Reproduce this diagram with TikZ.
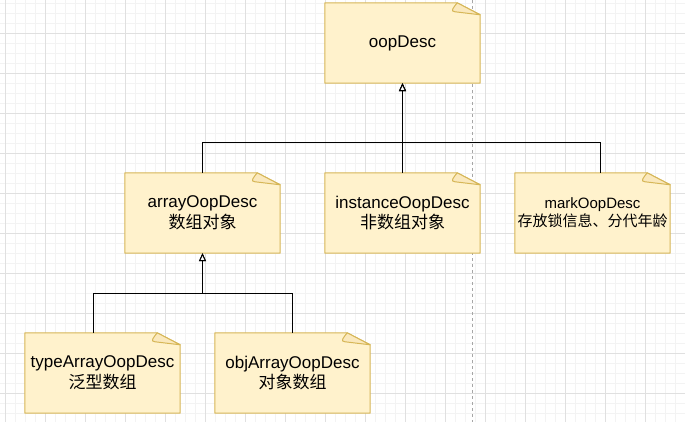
\documentclass[tikz,border=0pt]{standalone}
\usepackage{fontspec}
\setmainfont{Liberation Sans}
\newfontfamily\cjk{Noto Sans CJK SC}
\usetikzlibrary{arrows.meta}
\definecolor{notefill}{HTML}{FFF2CC}
\definecolor{noteline}{HTML}{D6B656}
\definecolor{flapfill}{HTML}{FAE8BC}
\definecolor{gridminor}{HTML}{F3F3F3}
\definecolor{gridmajor}{HTML}{E0E0E0}
\definecolor{dashcol}{HTML}{A6A6A6}
\pgfdeclarelayer{bg}
\pgfsetlayers{bg,main}
\newcommand\notebox[1]{%
  \begin{pgfonlayer}{bg}
  \filldraw[fill=notefill,draw=noteline,line width=1pt,line join=round]
    (#1.north west) -- ([xshift=-23pt]#1.north east) -- ([yshift=-12pt]#1.north east)
    -- (#1.south east) -- (#1.south west) -- cycle;
  \filldraw[fill=flapfill,draw=noteline,line width=1pt,line join=round]
    ([xshift=-23pt]#1.north east) .. controls ([xshift=-26pt,yshift=-4pt]#1.north east) and ([xshift=-31pt,yshift=-9pt]#1.north east) .. ([xshift=-25pt,yshift=-9pt]#1.north east)
    -- ([yshift=-12pt]#1.north east) -- cycle;
  \end{pgfonlayer}}
\tikzset{
  notenode/.style={minimum width=155pt,minimum height=80pt,inner sep=0pt,align=center,
    font=\fontsize{17}{20.5}\selectfont},
  smalltext/.style={font=\fontsize{15}{18}\selectfont},
  edge/.style={draw=black,line width=1pt},
  inh/.style={edge,-{Triangle[fill=white,length=8pt,width=7pt]}}
}
\begin{document}
\begin{tikzpicture}[x=1pt,y=-1pt]
\useasboundingbox (0,0) rectangle (685,422);
\begin{pgfonlayer}{bg}
\fill[white] (0,0) rectangle (685,422);
\foreach \x in {5,15,...,685} \draw[gridminor,line width=0.8pt] (\x,0) -- (\x,422);
\foreach \y in {3,13,...,422} \draw[gridminor,line width=0.8pt] (0,\y) -- (685,\y);
\foreach \x in {5,45,...,685} \draw[gridmajor,line width=0.9pt] (\x,0) -- (\x,422);
\foreach \y in {33,73,...,422} \draw[gridmajor,line width=0.9pt] (0,\y) -- (685,\y);
\draw[dashcol,line width=0.9pt,dash pattern=on 3pt off 3pt] (472,0) -- (472,422);
\end{pgfonlayer}

\node[notenode] (oop) at (402.5,43) {oopDesc};
\node[notenode] (array) at (202.5,213) {arrayOopDesc\\{\cjk 数组对象}};
\node[notenode] (instance) at (402.5,213) {instanceOopDesc\\{\cjk 非数组对象}};
\node[notenode,smalltext] (mark) at (592.5,213) {markOopDesc\\{\cjk 存放锁信息、分代年龄}};
\node[notenode] (tarr) at (102.5,373) {typeArrayOopDesc\\{\cjk 泛型数组}};
\node[notenode] (oarr) at (292.5,373) {objArrayOopDesc\\{\cjk 对象数组}};

\notebox{oop}
\notebox{array}
\notebox{instance}
\notebox{mark}
\notebox{tarr}
\notebox{oarr}

\coordinate (j1) at (402.5,143);
\coordinate (j2) at (202.5,293);

\draw[inh] (array.north) |- (j1) -- (oop.south);
\draw[inh] (instance.north) -- (oop.south);
\draw[inh] ([xshift=7.5pt]mark.north) |- (j1) -- (oop.south);
\draw[inh] ([xshift=-9.5pt]tarr.north) |- (j2) -- (array.south);
\draw[inh] (oarr.north) |- (j2) -- (array.south);
\end{tikzpicture}
\end{document}
